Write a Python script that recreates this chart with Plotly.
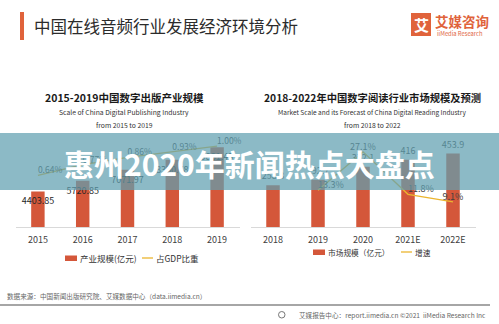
import plotly.graph_objects as go

W, H = 499, 324
FONT = "Noto Sans CJK SC, Noto Sans, sans-serif"
ORANGE = "#e0633b"
BAR_RED = "#d4573a"
LINE_Y = "#ebb52f"

# ---------------- data ----------------
pub_years = ["2015", "2016", "2017", "2018", "2019"]
pub_scale = [4403.85, 5720.85, 7071.97, 8330.78, 9881.43]   # 产业规模(亿元)
pub_gdp_share = [0.64, 0.77, 0.86, 0.93, 1.00]              # 占GDP比重(%)

read_years = ["2018", "2019", "2020", "2021E", "2022E"]
read_scale = [258.3, 292.7, 372.1, 416, 453.9]              # 市场规模(亿元)
growth_years = ["2019", "2020", "2021E", "2022E"]
read_growth = [13.3, 27.1, 11.8, 9.1]                       # 增速(%)


def px(x):
    return x / W


def py(y):
    return 1 - y / H


fig = go.Figure()

# left chart
fig.add_trace(go.Bar(
    x=pub_years, y=pub_scale, xaxis="x", yaxis="y",
    marker=dict(color=BAR_RED, line=dict(width=0)), width=0.3,
    text=[f"{v:.2f}" for v in pub_scale], textposition="inside",
    insidetextanchor="end", constraintext="none", textangle=0,
    textfont=dict(size=9, color="#262626", family=FONT),
    showlegend=False, cliponaxis=False))
fig.add_trace(go.Scatter(
    x=pub_years, y=pub_gdp_share, xaxis="x", yaxis="y2",
    mode="lines+text", line=dict(color=LINE_Y, width=1.3),
    text=[f"{v:.2f}%" for v in pub_gdp_share], textposition="top right",
    textfont=dict(size=8.5, color="#404040", family=FONT),
    showlegend=False, cliponaxis=False))

# right chart
fig.add_trace(go.Bar(
    x=read_years, y=read_scale, xaxis="x2", yaxis="y3",
    marker=dict(color=BAR_RED, line=dict(width=0)), width=0.3,
    text=[str(v) for v in read_scale], textposition="outside",
    constraintext="none", textangle=0,
    textfont=dict(size=9, color="#404040", family=FONT),
    showlegend=False, cliponaxis=False))
fig.add_trace(go.Scatter(
    x=growth_years, y=read_growth, xaxis="x2", yaxis="y4",
    mode="lines+text", line=dict(color=LINE_Y, width=1.3),
    text=[f"{v}%" for v in read_growth],
    textposition=["top right", "top center", "top right", "top center"],
    textfont=dict(size=9, color="#404040", family=FONT),
    showlegend=False, cliponaxis=False))

ydom = [py(227), py(130)]
xaxis_common = dict(showline=True, linecolor="#d9d9d9", linewidth=1, ticks="",
                    showgrid=False, zeroline=False, ticklabelstandoff=4,
                    tickfont=dict(size=9, color="#404040", family=FONT),
                    fixedrange=True)
yaxis_common = dict(visible=False, showgrid=False, zeroline=False, fixedrange=True)

fig.update_layout(
    width=W, height=H, margin=dict(l=0, r=0, t=0, b=0),
    paper_bgcolor="white", plot_bgcolor="rgba(0,0,0,0)",
    font=dict(family=FONT),
    xaxis=dict(domain=[px(15.5), px(239.5)], anchor="y", **xaxis_common),
    yaxis=dict(domain=ydom, range=[0, 12000], **yaxis_common),
    yaxis2=dict(overlaying="y", range=[0, 1.2], **yaxis_common),
    xaxis2=dict(domain=[px(250.5), px(475.5)], anchor="y3", **xaxis_common),
    yaxis3=dict(domain=ydom, range=[0, 600], anchor="x2", **yaxis_common),
    yaxis4=dict(overlaying="y3", range=[0, 35], anchor="x2", **yaxis_common),
)

shapes = []
ann = []


def text(x, y, s, size, color="#333333", anchor="center", bold=False):
    ann.append(dict(x=px(x), y=py(y), xref="paper", yref="paper", text=s,
                    showarrow=False, xanchor=anchor, yanchor="middle",
                    font=dict(size=size, color=color, family=FONT,
                              weight=700 if bold else 400)))


def rect(x0, y0, x1, y1, color, layer="above", line=None):
    shapes.append(dict(type="rect", xref="paper", yref="paper",
                       x0=px(x0), x1=px(x1), y0=py(y1), y1=py(y0),
                       fillcolor=color, line=dict(width=0) if line is None else line,
                       layer=layer))


def hline(x0, x1, y, color, width):
    shapes.append(dict(type="line", xref="paper", yref="paper",
                       x0=px(x0), x1=px(x1), y0=py(y), y1=py(y),
                       line=dict(color=color, width=width), layer="above"))


# header
rect(20, 12, 24, 40, ORANGE)
text(32, 26, "中国在线音频行业发展经济环境分析", 16.5, "#2b2b2b", "left")
rect(411, 13, 431, 36, ORANGE)
text(421, 24.5, "艾", 15, "white", bold=True)
text(433, 21, "艾媒咨询", 13.5, ORANGE, "left", bold=True)
text(434.5, 33, "iiMedia Research", 5.8, ORANGE, "left")

# chart titles
text(124, 97, "2015-2019中国数字出版产业规模", 10.5, "#1a1a1a", bold=True)
text(124, 112, "Scale of China Digital Publishing Industry", 6.8, "#333333")
text(124, 124.5, "from 2015 to 2019", 6.8, "#333333")
text(372, 97, "2018-2022年中国数字阅读行业市场规模及预测", 10.3, "#1a1a1a", bold=True)
text(372, 112, "Market Scale and its Forecast of China Digital Reading Industry", 6.5, "#333333")
text(372, 124.5, "from 2018 to 2022", 6.8, "#333333")

# legends
rect(65, 255.5, 77, 261, BAR_RED)
text(78, 258, "产业规模(亿元)", 8.5, "#333333", "left")
hline(142, 153, 258, LINE_Y, 1.3)
text(154, 258, "占GDP比重", 8.5, "#333333", "left")
rect(313, 249.5, 325, 255, BAR_RED)
text(325.5, 252, "市场规模（亿元）", 7.7, "#333333", "left")
hline(401, 412, 252, LINE_Y, 1.3)
text(412.5, 252, "增速", 7.7, "#333333", "left")

# footer
text(5, 295.5, "数据来源：中国新闻出版研究院、艾媒数据中心（data.iimedia.cn）", 6.6, "#666666", "left")
hline(0, 490, 305, "#a6a6a6", 2.2)
shapes.append(dict(type="circle", xref="paper", yref="paper",
                   x0=px(278.5), x1=px(285), y0=py(318), y1=py(311.5),
                   line=dict(color="#777777", width=1), layer="above"))
text(488, 314.5, "艾媒报告中心：report.iimedia.cn ©2021  iiMedia Research Inc", 6.6, "#666666", "right")

# translucent banner over the charts
rect(0, 133, 499, 190, "rgba(95,159,176,0.72)")
text(250, 163, "惠州2020年新闻热点大盘点", 30, "white", bold=True)

fig.update_layout(shapes=shapes, annotations=ann)
fig.write_html("out.html")
